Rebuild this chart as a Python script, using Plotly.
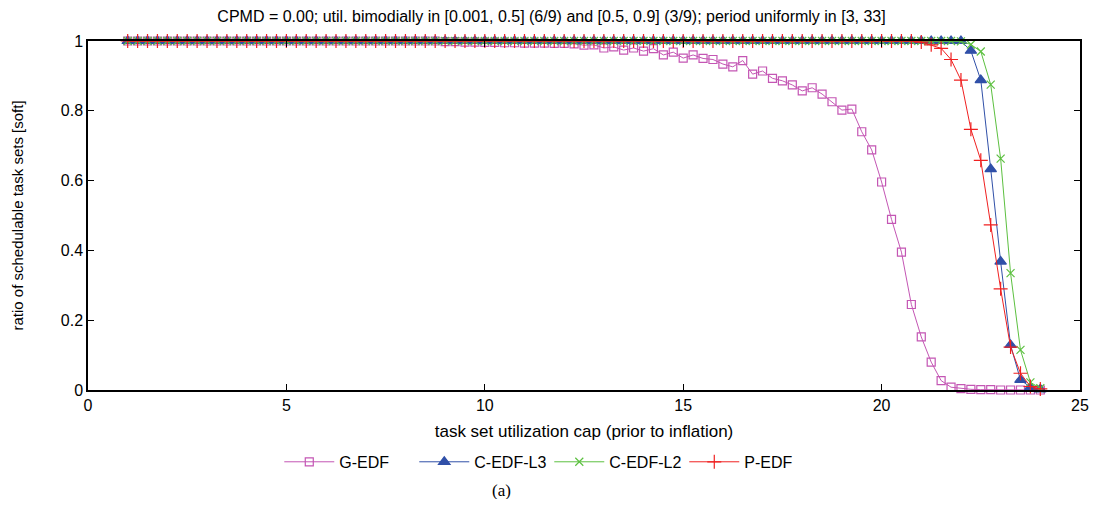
import plotly.graph_objects as go

# x grid: task set utilization cap, 1 .. 24 step 0.25
util_cap = [1 + 0.25 * i for i in range(93)]

def fill(head_val, n_head, tail):
    return [head_val] * n_head + tail

# G-EDF
g_edf_tail = [
    0.998, 0.998, 0.997, 0.997, 0.996, 0.996, 0.995, 0.995, 0.994,  # 9.0 .. 11.0
    0.994, 0.994, 0.993, 0.993, 0.992, 0.988, 0.989, 0.980, 0.983, 0.974,  # 11.25 .. 13.5
    0.980, 0.971, 0.978, 0.960, 0.968, 0.951, 0.960, 0.950, 0.947, 0.934,  # 13.75 .. 16.0
    0.926, 0.944, 0.905, 0.914, 0.893, 0.886, 0.874, 0.857, 0.866, 0.848,  # 16.25 .. 18.5
    0.826, 0.802, 0.805, 0.740, 0.688, 0.596, 0.489, 0.395, 0.245, 0.152,  # 18.75 .. 21.0
    0.080, 0.027, 0.008, 0.004, 0.002, 0.001, 0.001, 0.0, 0.0, 0.0,       # 21.25 .. 23.5
    0.0, 0.0,                                                              # 23.75 .. 24.0
]
g_edf = fill(1.0, 93 - len(g_edf_tail), g_edf_tail)

# C-EDF-L3
c_edf_l3_tail = [1.0, 0.972, 0.888, 0.633, 0.368, 0.129, 0.029, 0.008, 0.002]  # 22.0 .. 24.0
c_edf_l3 = fill(1.0, 93 - len(c_edf_l3_tail), c_edf_l3_tail)

# C-EDF-L2
c_edf_l2_tail = [0.999, 0.990, 0.970, 0.875, 0.663, 0.335, 0.115, 0.022, 0.005]  # 22.0 .. 24.0
c_edf_l2 = fill(1.0, 93 - len(c_edf_l2_tail), c_edf_l2_tail)

# P-EDF
p_edf_tail = [0.997, 0.989, 0.979, 0.947, 0.888, 0.747, 0.658, 0.473, 0.290,
              0.123, 0.048, 0.010, 0.003]  # 21.0 .. 24.0
p_edf = fill(1.0, 93 - len(p_edf_tail), p_edf_tail)

series_names = ["G-EDF", "C-EDF-L3", "C-EDF-L2", "P-EDF"]
series_values = [g_edf, c_edf_l3, c_edf_l2, p_edf]
series_colors = ["#c456b4", "#3050a8", "#5cc040", "#f02020"]
series_symbols = ["square-open", "triangle-up", "x-thin-open", "cross-thin-open"]
series_sizes = [8, 10, 8, 10]

x_ticks = [0, 5, 10, 15, 20, 25]
y_ticks = [0, 0.2, 0.4, 0.6, 0.8, 1]
y_tick_labels = ["0", "0.2", "0.4", "0.6", "0.8", "1"]

title_text = ("CPMD = 0.00; util. bimodially in [0.001, 0.5] (6/9) and [0.5, 0.9] (3/9); "
              "period uniformly in [3, 33]")

FONT = "Liberation Sans, Arial, sans-serif"

fig = go.Figure()
for name, vals, col, sym, sz in zip(series_names, series_values, series_colors,
                                    series_symbols, series_sizes):
    fig.add_trace(go.Scatter(
        x=util_cap, y=vals, name=name, mode="lines+markers",
        line=dict(color=col, width=1),
        marker=dict(symbol=sym, size=sz, color=col, line=dict(color=col, width=1.2)),
        cliponaxis=False,
    ))

axis_common = dict(
    showgrid=False, zeroline=False, showline=True, linecolor="black", linewidth=1.5,
    mirror="allticks", ticks="inside", ticklen=6, tickwidth=1, tickcolor="black",
    tickfont=dict(family=FONT, size=16, color="black"),
)

fig.update_layout(
    width=1087, height=491,
    margin=dict(l=80, r=15, t=33, b=109, autoexpand=False),
    paper_bgcolor="white", plot_bgcolor="white",
    title=dict(text=title_text, x=0.5, xanchor="center", y=1.0, yanchor="top",
               pad=dict(t=3, b=0),
               font=dict(family=FONT, size=16, color="black")),
    xaxis=dict(range=[0, 25], tickvals=x_ticks,
               title=dict(text="task set utilization cap (prior to inflation)", standoff=12,
                          font=dict(family=FONT, size=17, color="black")),
               **axis_common),
    yaxis=dict(range=[0, 1], tickvals=y_ticks, ticktext=y_tick_labels,
               title=dict(text="ratio of schedulable task sets [soft]", standoff=34,
                          font=dict(family=FONT, size=15, color="black")),
               **axis_common),
    legend=dict(orientation="h", x=0.465, xanchor="center", y=-0.206, yanchor="middle",
                font=dict(family=FONT, size=16, color="black"),
                itemwidth=50, entrywidth=70, bgcolor="rgba(0,0,0,0)"),
    showlegend=True,
)

fig.add_annotation(text="(a)", xref="paper", yref="paper", x=0.417, y=-0.287,
                   yanchor="middle", showarrow=False,
                   font=dict(family="Liberation Serif, Times New Roman, serif", size=17,
                             color="black"))

fig.write_html("out.html")
